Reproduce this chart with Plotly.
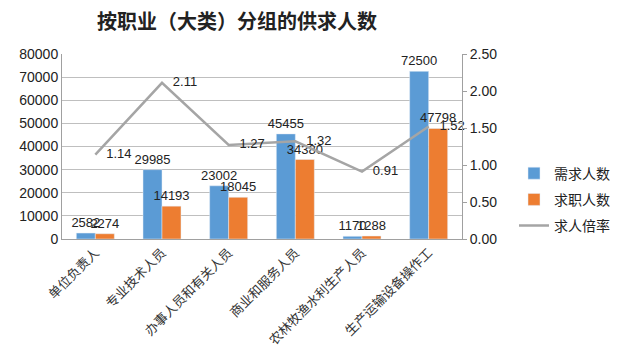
import plotly.graph_objects as go

categories = ["单位负责人", "专业技术人员", "办事人员和有关人员", "商业和服务人员", "农林牧渔水利生产人员", "生产运输设备操作工"]
demand = [2582, 29985, 23002, 45455, 1170, 72500]
supply = [2274, 14193, 18045, 34380, 1288, 47798]
ratio = [1.14, 2.11, 1.27, 1.32, 0.91, 1.52]

font_num = "Liberation Sans, Arial, sans-serif"
font_cjk = "Noto Sans CJK SC, sans-serif"

W, H = 619, 350  # page body has 8px default margin

fig = go.Figure()
fig.add_trace(go.Bar(
    x=categories, y=demand, name="需求人数", marker_color="#5B9BD5", legendgroup="a",
    text=[str(v) for v in demand], textposition="outside", constraintext="none",
    textfont=dict(family=font_num, size=13, color="#222"), cliponaxis=False,
))
fig.add_trace(go.Bar(
    x=categories, y=supply, name="求职人数", marker_color="#ED7D31", legendgroup="b",
    text=[str(v) for v in supply], textposition="outside", constraintext="none",
    textfont=dict(family=font_num, size=13, color="#222"), cliponaxis=False,
))
fig.add_trace(go.Scatter(
    x=categories, y=ratio, name="求人倍率", yaxis="y2", mode="lines+text", legendgroup="c",
    line=dict(color="#A5A5A5", width=2.5),
    text=["   " + f"{v:.2f}" for v in ratio], textposition="middle right",
    textfont=dict(family=font_num, size=13, color="#222"), cliponaxis=False,
))

fig.update_layout(
    width=W, height=H,
    margin=dict(l=54, r=165, t=46, b=119, autoexpand=False),
    paper_bgcolor="white", plot_bgcolor="white",
    title=dict(text="<b>按职业（大类）分组的供求人数</b>", x=(237-8)/W, xanchor="center",
               y=1-(22-8)/H, yanchor="middle",
               font=dict(family=font_cjk, size=20, color="#222")),
    barmode="group", bargap=0.43, bargroupgap=0,
    uniformtext=dict(mode=False),
    xaxis=dict(tickangle=-45, tickfont=dict(family=font_cjk, size=13, color="#333"),
               showline=True, linecolor="#A0A0A0", linewidth=1, ticks="", automargin=False),
    yaxis=dict(range=[0, 80000], dtick=10000, tickformat="d", showgrid=True, gridcolor="#BFBFBF", gridwidth=1,
               showline=True, linecolor="#A0A0A0", zeroline=False, automargin=False,
               tickfont=dict(family=font_num, size=14, color="#222")),
    yaxis2=dict(range=[0, 2.5], dtick=0.5, tickformat=".2f", overlaying="y", side="right",
                showgrid=False, showline=True, linecolor="#A0A0A0", ticks="outside",
                ticklen=4, tickcolor="#A0A0A0", zeroline=False, automargin=False,
                tickfont=dict(family=font_num, size=14, color="#222")),
    legend=dict(x=1.13, y=0.44, xanchor="left", yanchor="top",
                font=dict(family=font_cjk, size=14, color="#222"), tracegroupgap=5,
                bgcolor="rgba(0,0,0,0)"),
    showlegend=True,
)

fig.write_html("out.html")
